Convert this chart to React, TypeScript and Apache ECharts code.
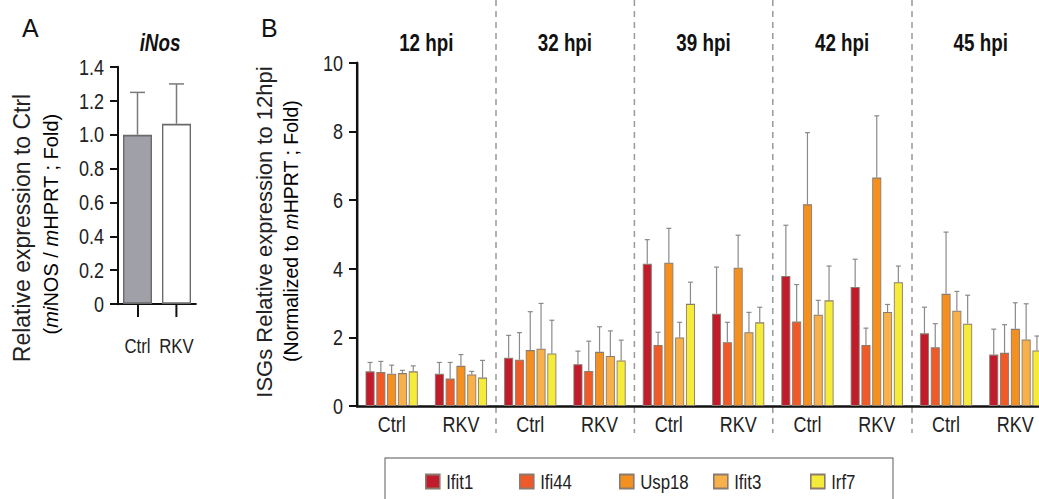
import React, { useEffect, useRef } from "react";
import * as echarts from "echarts";

const FONT = "'Liberation Sans', Arial, sans-serif";

// Panel A
const aCategories = ["Ctrl", "RKV"];
const aValues = [1.0, 1.065];
const aErrors = [1.25, 1.3];

// Panel B
const timepoints = ["12 hpi", "32 hpi", "39 hpi", "42 hpi", "45 hpi"];
const groups = ["Ctrl", "RKV"];
const genes = ["Ifit1", "Ifi44", "Usp18", "Ifit3", "Irf7"];
const geneColors = ["#c01c2c", "#f05a28", "#f39020", "#f7b04a", "#f5eb3a"];

// values per gene, order: 12C,12R,32C,32R,39C,39R,42C,42R,45C,45R
const ifit1 = [1.01, 0.94, 1.41, 1.22, 4.15, 2.69, 3.79, 3.47, 2.12, 1.5];
const ifit1Err = [1.27, 1.27, 2.06, 1.6, 4.85, 4.05, 5.27, 4.28, 2.88, 2.24];
const ifi44 = [0.99, 0.8, 1.35, 1.02, 1.78, 1.86, 2.46, 1.78, 1.71, 1.55];
const ifi44Err = [1.3, 1.27, 2.14, 1.89, 2.15, 2.44, 3.54, 2.27, 2.4, 2.37];
const usp18 = [0.94, 1.17, 1.63, 1.58, 4.18, 4.03, 5.88, 6.66, 3.27, 2.25];
const usp18Err = [1.19, 1.5, 2.75, 2.31, 5.18, 4.98, 7.97, 8.46, 5.07, 3.01];
const ifit3 = [0.96, 0.92, 1.67, 1.46, 2.0, 2.15, 2.66, 2.74, 2.78, 1.94];
const ifit3Err = [1.04, 1.01, 2.99, 2.19, 2.44, 2.73, 3.08, 2.96, 3.34, 2.98];
const irf7 = [1.01, 0.83, 1.53, 1.33, 2.98, 2.44, 3.08, 3.61, 2.4, 1.62];
const irf7Err = [1.17, 1.33, 2.5, 1.92, 3.61, 2.88, 4.08, 4.08, 3.23, 2.04];

const geneValues = [ifit1, ifi44, usp18, ifit3, irf7];
const geneErrors = [ifit1Err, ifi44Err, usp18Err, ifit3Err, irf7Err];

const legendLefts = [425, 519, 619, 713, 810];

// the reference figure is horizontally condensed; draw wide and squeeze
const S = 0.8;
const X = (v: number) => v / S;

export default function App() {
  const ref = useRef<HTMLDivElement>(null);
  useEffect(() => {
    if (!ref.current) return;
    const chart = echarts.init(ref.current, null, { renderer: "svg" });

    const bCategories: string[] = [];
    timepoints.forEach((t) => groups.forEach((g) => bCategories.push(g + "|" + t)));

    const BW = X(9);
    const GAP = X(1.8);
    const groupW = genes.length * BW + (genes.length - 1) * GAP;

    const errLine = (color: string, width: number, capW: number, offset: number) =>
      (params: any, api: any) => {
        const cat = api.value(0);
        const v = api.value(1);
        const e = api.value(2);
        const base = api.coord([cat, v]);
        const top = api.coord([cat, e]);
        const x = base[0] + offset;
        return {
          type: "group",
          children: [
            { type: "line", shape: { x1: x, y1: base[1], x2: x, y2: top[1] }, style: { stroke: color, lineWidth: X(width) } },
            { type: "line", shape: { x1: x - capW / 2, y1: top[1], x2: x + capW / 2, y2: top[1] }, style: { stroke: color, lineWidth: width } },
          ],
        };
      };

    const axisText = { color: "#222", fontFamily: FONT };

    const series: any[] = [
      {
        type: "bar",
        xAxisIndex: 0,
        yAxisIndex: 0,
        barWidth: X(29),
        data: aValues.map((v, i) => ({
          value: v,
          itemStyle: { color: i === 0 ? "#a0a0a8" : "#ffffff", borderColor: "#6a6a6a", borderWidth: 1.7 },
        })),
        z: 2,
      },
      {
        type: "custom",
        xAxisIndex: 0,
        yAxisIndex: 0,
        renderItem: errLine("#7a7a7a", 1.5, X(15), 0),
        data: aValues.map((v, i) => [i, v, aErrors[i]]),
        z: 1,
      },
    ];

    genes.forEach((g, gi) => {
      series.push({
        name: g,
        type: "bar",
        xAxisIndex: 1,
        yAxisIndex: 1,
        barWidth: BW,
        barGap: (GAP / BW) * 100 + "%",
        data: geneValues[gi],
        itemStyle: { color: geneColors[gi], borderColor: "#8a7b6e", borderWidth: 1.1 },
        z: 2,
      });
    });
    genes.forEach((g, gi) => {
      const offset = -groupW / 2 + gi * (BW + GAP) + BW / 2;
      series.push({
        type: "custom",
        xAxisIndex: 1,
        yAxisIndex: 1,
        renderItem: errLine("#8a8a8a", 1.2, X(5), offset),
        data: geneValues[gi].map((v, i) => [i, v, geneErrors[gi][i]]),
        z: 1,
      });
    });
    series.push({
      type: "bar",
      xAxisIndex: 3,
      yAxisIndex: 2,
      data: [],
      silent: true,
    });

    const option: any = {
      animation: false,
      backgroundColor: "#ffffff",
      grid: [
        { left: X(118), top: 67, width: X(78), height: 237 },
        { left: X(357), top: 63, width: X(693), height: 343 },
        { left: X(357), top: 0, width: X(693), height: 433 },
      ],
      xAxis: [
        {
          type: "category",
          gridIndex: 0,
          data: aCategories,
          axisLine: { lineStyle: { color: "#111", width: 2 } },
          axisTick: { show: true, interval: 0, alignWithLabel: true, length: 13, lineStyle: { color: "#111", width: X(2) } },
          axisLabel: { ...axisText, fontSize: 21, margin: 31, interval: 0 },
        },
        {
          type: "category",
          gridIndex: 1,
          data: bCategories,
          axisLine: { lineStyle: { color: "#111", width: 2.5 } },
          axisTick: { show: false },
          axisLabel: { ...axisText, fontSize: 22.5, margin: 7, interval: 0, formatter: (v: string) => v.split("|")[0] },
        },
        {
          type: "category",
          gridIndex: 1,
          position: "top",
          data: timepoints,
          axisLine: { show: false },
          axisTick: { show: false },
          axisLabel: { color: "#111", fontFamily: FONT, fontSize: 23.5, fontWeight: "bold", margin: 8, interval: 0 },
        },
        {
          type: "category",
          gridIndex: 2,
          data: timepoints,
          axisLine: { show: false },
          axisTick: { show: false },
          axisLabel: { show: false },
          splitLine: {
            show: true,
            interval: (i: number) => i > 0,
            lineStyle: { color: "#9a9a9a", width: X(1.5), type: [6, 5] },
          },
        },
      ],
      yAxis: [
        {
          type: "value",
          gridIndex: 0,
          min: 0,
          max: 1.4,
          interval: 0.2,
          axisLine: { show: true, lineStyle: { color: "#111", width: X(2) } },
          axisTick: { show: true, length: X(8), lineStyle: { color: "#111", width: 2 } },
          splitLine: { show: false },
          axisLabel: { ...axisText, fontSize: 22.5, margin: X(14), formatter: (v: number) => (v === 0 ? "0" : v.toFixed(1)) },
        },
        {
          type: "value",
          gridIndex: 1,
          min: 0,
          max: 10,
          interval: 2,
          axisLine: { show: true, lineStyle: { color: "#111", width: X(2.5) } },
          axisTick: { show: true, length: X(8), lineStyle: { color: "#111", width: 2 } },
          splitLine: { show: false },
          axisLabel: { ...axisText, fontSize: 22.5, margin: X(14) },
        },
        {
          type: "value",
          gridIndex: 2,
          show: false,
          splitLine: { show: false },
        },
      ],
      legend: genes.map((g, gi) => ({
        data: [g],
        left: X(legendLefts[gi]),
        top: 471,
        padding: 0,
        itemWidth: X(14),
        itemHeight: 14,
        itemGap: 0,
        icon: "rect",
        selectedMode: false,
        textStyle: { color: "#222", fontFamily: FONT, fontSize: 21, padding: [0, 0, 0, 3] },
      })),
      graphic: [
        {
          type: "rect",
          shape: { x: X(385), y: 458, width: X(508), height: 60 },
          style: { fill: "none", stroke: "#555", lineWidth: 1.2 },
          silent: true,
        },
        {
          type: "text",
          x: X(22),
          y: 15,
          scaleX: 1 / S,
          style: { text: "A", fontSize: 25, fontFamily: FONT, fill: "#111" },
        },
        {
          type: "text",
          x: X(261),
          y: 15,
          scaleX: 1 / S,
          style: { text: "B", fontSize: 25, fontFamily: FONT, fill: "#111" },
        },
        {
          type: "text",
          x: X(160),
          y: 43,
          style: {
            text: "iNos",
            fontSize: 23.5,
            fontWeight: "bold",
            fontStyle: "italic",
            fontFamily: FONT,
            fill: "#111",
            align: "center",
            verticalAlign: "middle",
          },
        },
        {
          type: "text",
          x: X(22),
          y: 228,
          rotation: Math.PI / 2,
          scaleY: 1 / S,
          style: {
            text: "Relative expression to Ctrl",
            fontSize: 23,
            fontFamily: FONT,
            fill: "#222",
            align: "center",
            verticalAlign: "middle",
          },
        },
        {
          type: "text",
          x: X(51),
          y: 224,
          rotation: Math.PI / 2,
          scaleY: 1 / S,
          style: {
            text: "{n|(}{i|mi}{n|NOS / }{i|m}{n|HPRT ; Fold)}",
            align: "center",
            verticalAlign: "middle",
            rich: {
              n: { fontSize: 20, fontFamily: FONT, color: "#222" },
              i: { fontSize: 20, fontFamily: FONT, fontStyle: "italic", color: "#222" },
            },
          },
        },
        {
          type: "text",
          x: X(264),
          y: 232,
          rotation: Math.PI / 2,
          scaleY: 1 / S,
          style: {
            text: "ISGs Relative expression to 12hpi",
            fontSize: 22,
            fontFamily: FONT,
            fill: "#222",
            align: "center",
            verticalAlign: "middle",
          },
        },
        {
          type: "text",
          x: X(291),
          y: 231,
          rotation: Math.PI / 2,
          scaleY: 1 / S,
          style: {
            text: "{n|(Normalized to }{i|m}{n|HPRT ; Fold)}",
            align: "center",
            verticalAlign: "middle",
            rich: {
              n: { fontSize: 19.5, fontFamily: FONT, color: "#222" },
              i: { fontSize: 19.5, fontFamily: FONT, fontStyle: "italic", color: "#222" },
            },
          },
        },
      ],
      series,
    };

    chart.setOption(option);
    return () => chart.dispose();
  }, []);

  return (
    <div style={{ position: "absolute", left: 0, top: 0, width: 1039, height: 499, overflow: "hidden" }}>
      <div
        ref={ref}
        style={{ width: X(1075), height: 499, transform: `scaleX(${S})`, transformOrigin: "0 0" }}
      />
    </div>
  );
}
